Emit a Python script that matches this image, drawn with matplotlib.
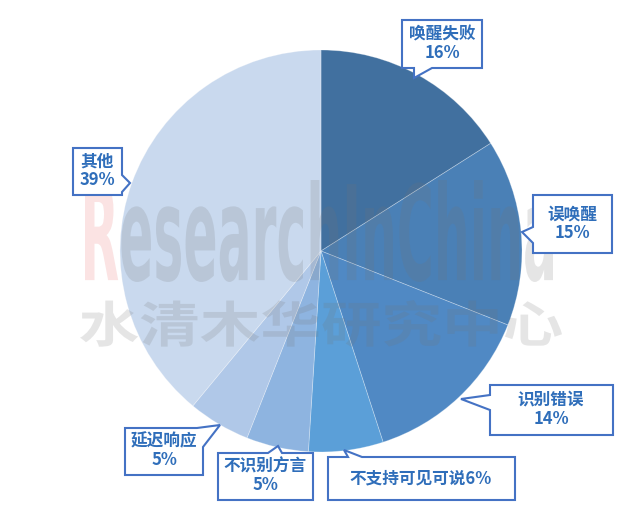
import matplotlib
matplotlib.use('Agg')
import matplotlib.pyplot as plt
from matplotlib.patches import Polygon, PathPatch
from matplotlib.textpath import TextPath, text_to_path
from matplotlib.font_manager import FontProperties
from matplotlib.transforms import Affine2D

categories = ['唤醒失败', '误唤醒', '识别错误', '不支持可见可说', '不识别方言', '延迟响应', '其他']
values = [16, 15, 14, 6, 5, 5, 39]
label_texts = ['唤醒失败\n16%', '误唤醒\n15%', '识别错误\n14%', '不支持可见可说6%',
               '不识别方言\n5%', '延迟响应\n5%', '其他\n39%']
colors = ['#41709F', '#4A80B6', '#5089C4', '#5B9FD8', '#8EB4E0', '#B0C8E8', '#C9D9EE']

plt.rcParams['font.family'] = ['Noto Sans CJK SC', 'DejaVu Sans']

W, H = 642, 505
fig = plt.figure(figsize=(W / 100, H / 100), dpi=100)
cx, cy, r = 321, 251, 201
ax = fig.add_axes([(cx - r) / W, (H - cy - r) / H, 2 * r / W, 2 * r / H])
ax.pie(values, colors=colors, startangle=90, counterclock=False, radius=1,
       wedgeprops=dict(edgecolor=(1, 1, 1, 0.3), linewidth=0.6))
ax.set_xlim(-1, 1)
ax.set_ylim(-1, 1)
ax.set_aspect('equal')
ax.axis('off')

ov = fig.add_axes([0, 0, 1, 1])
ov.set_xlim(0, W)
ov.set_ylim(H, 0)
ov.axis('off')
ov.patch.set_visible(False)


def fit_path(path, bbox_ref, x0, y0, x1, y1):
    bx0, by0, bw, bh = bbox_ref.x0, bbox_ref.y0, bbox_ref.width, bbox_ref.height
    t = (Affine2D().translate(-bx0, -by0)
         .scale((x1 - x0) / bw, -(y1 - y0) / bh)
         .translate(x0, y1))
    return t.transform_path(path)


# Watermark: ResearchInChina
wp = FontProperties(family='DejaVu Sans', weight='bold', size=100)
full = TextPath((0, 0), 'ResearchInChina', size=100, prop=wp)
ref = full.get_extents()
wR, _, _ = text_to_path.get_text_width_height_descent('R', wp, ismath=False)
pR = TextPath((0, 0), 'R', size=100, prop=wp)
pRest = TextPath((wR, 0), 'esearchInChina', size=100, prop=wp)
box_wm = (85, 180, 553, 282)
ov.add_patch(PathPatch(fit_path(pRest, ref, *box_wm), facecolor=(0.45, 0.45, 0.45),
                       edgecolor='none', alpha=0.18, zorder=3))
ov.add_patch(PathPatch(fit_path(pR, ref, *box_wm), facecolor='#F2A5A5',
                       edgecolor='none', alpha=0.3, zorder=3))

# Watermark: Chinese
cp = FontProperties(family='Noto Sans CJK SC', weight='bold', size=100)
cpath = TextPath((0, 0), '水清木华研究中心', size=100, prop=cp)
ov.add_patch(PathPatch(fit_path(cpath, cpath.get_extents(), 80, 300, 562, 347),
                       facecolor=(0.45, 0.45, 0.45), edgecolor='none', alpha=0.18, zorder=3))

# Callouts
edge_c = '#4472C4'
text_c = '#2F6EBA'
callouts = [
    [(402, 20), (482, 20), (482, 68), (432, 68), (414, 78), (414, 68), (402, 68)],
    [(533, 195), (612, 195), (612, 253), (533, 253), (533, 243), (522, 232), (533, 227)],
    [(490, 385), (613, 385), (613, 435), (490, 435), (490, 410), (461, 399), (490, 395)],
    [(328, 457), (348, 457), (344, 450), (362, 457), (515, 457), (515, 500), (328, 500)],
    [(218, 453), (268, 453), (278, 446), (282, 453), (313, 453), (313, 500), (218, 500)],
    [(125, 428), (197, 428), (220, 425), (203, 447), (203, 475), (125, 475)],
    [(73, 148), (122, 148), (122, 175), (130, 183), (122, 192), (122, 195), (73, 195)],
]
centers = [(442, 44), (572, 224), (551, 410), (421, 478), (265, 476), (164, 451), (97, 171)]
for i, (poly, (tx, ty)) in enumerate(zip(callouts, centers)):
    ov.add_patch(Polygon(poly, closed=True, facecolor='white', edgecolor=edge_c,
                         linewidth=1.5, zorder=5))
    ov.text(tx, ty, label_texts[i], ha='center', va='center', fontsize=12,
            fontweight='bold', color=text_c, linespacing=1.05, zorder=6)

fig.savefig('out.png', dpi=100, facecolor='white')
